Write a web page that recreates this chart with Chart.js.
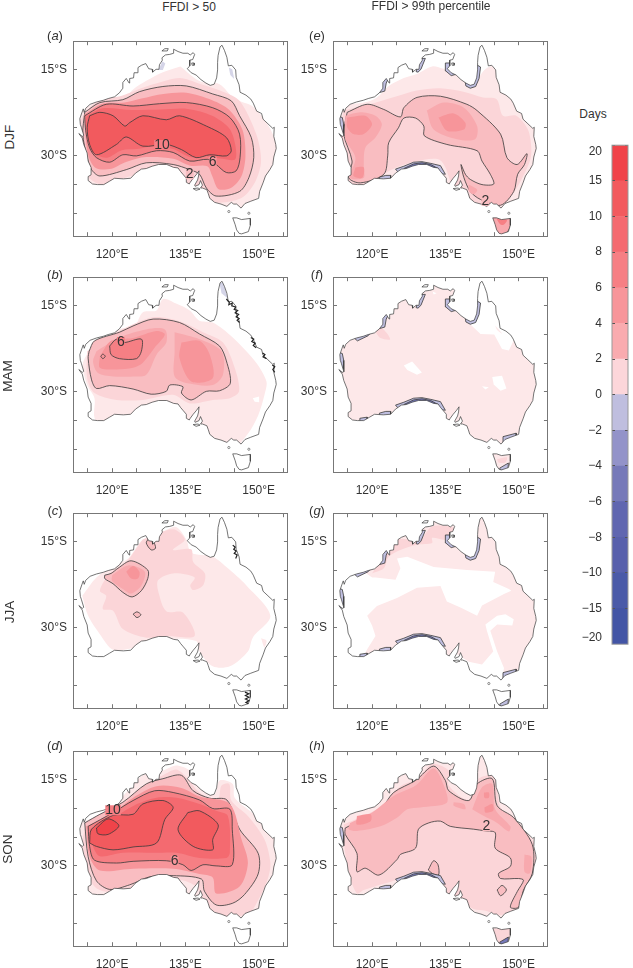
<!DOCTYPE html>
<html>
<head>
<meta charset="utf-8">
<script src="https://cdn.jsdelivr.net/npm/chart.js@4/dist/chart.umd.min.js"></script>
<style>
  html, body { margin: 0; padding: 0; background: #fff; }
  body { position: relative; width: 633px; height: 968px; overflow: hidden; font-family: "Liberation Sans", sans-serif; color: #333; }
  canvas { position: absolute; }
  .t { position: absolute; font-size: 12px; white-space: nowrap; transform: translate(-50%, -50%); }
  .s { position: absolute; font-size: 13.5px; white-space: nowrap; transform: translate(-50%, -50%) rotate(-90deg); }
  .p { position: absolute; font-size: 13px; white-space: nowrap; transform: translate(-50%, -50%); }
  .p i { font-style: italic; }
</style>
</head>
<body>
<script>
// axis marks
const lonMarks = [115, 120, 125, 130, 135, 140, 145, 150, 155];
const latMarks = [-40, -35, -30, -25, -20, -15];
const lonLabels = [120, 135, 150];
const latLabels = [-15, -30];

// coastline, lon/lat
const coast = [[142.5,-10.7],[143,-11.6],[143.5,-12.8],[143.8,-14.3],[144.5,-14.2],[145.3,-15],[145.4,-16.3],[146,-17.6],[146.2,-18.9],[147.4,-19.4],[148.4,-20.1],[148.9,-20.8],[149.6,-22.2],[150.6,-22.6],[150.9,-23.6],[151.9,-24.4],[152.9,-25.2],[153.2,-25],[153.1,-26.6],[153.5,-28],[153.6,-28.7],[153.1,-30.2],[152.9,-31.5],[152.3,-32.4],[151.4,-33.5],[150.9,-34.7],[150.2,-36.2],[150,-37.4],[148.4,-37.9],[147.2,-38.3],[146.4,-39.1],[145.5,-38.4],[144.9,-38.4],[144.4,-38.1],[143.5,-38.8],[142.3,-38.4],[141,-38.1],[140,-37.4],[139.7,-36.6],[139.4,-35.9],[138.5,-35.6],[138.1,-35.6],[138.5,-35.1],[138.1,-34.3],[137.8,-35],[137,-35.3],[136.9,-35.1],[137.5,-34.2],[137.7,-33.5],[137.8,-32.6],[137.3,-33.2],[136.6,-33.9],[136,-34.6],[135.8,-34.9],[135.2,-34.6],[135.2,-33.9],[134.5,-33.2],[134,-32.7],[133.5,-32.1],[132.6,-32],[131.2,-31.5],[129.5,-31.5],[128.2,-31.8],[127,-32.2],[126,-32.3],[124.8,-33],[123.8,-33.9],[122.3,-34],[120.5,-33.9],[119.5,-34.4],[118.3,-35],[117,-35],[116,-34.9],[115.1,-34.3],[115.1,-33.6],[115.7,-33.3],[115.7,-32],[115.1,-30.9],[114.9,-29.5],[114.2,-28],[113.9,-26.9],[113.2,-26.1],[113.9,-26.6],[114.2,-26.4],[113.7,-25],[113.5,-24.5],[113.4,-23.5],[113.8,-22.5],[114.1,-21.8],[114.3,-22.4],[114.6,-21.7],[115.5,-21],[116.8,-20.6],[118.2,-20.3],[119.2,-20],[120.5,-19.7],[121.5,-19],[122.2,-18.2],[122.2,-17.2],[122.9,-16.5],[123.5,-17.3],[123.6,-16.5],[124.4,-16.4],[124.5,-15.5],[125.2,-15.5],[125.3,-14.6],[126,-14.2],[126.9,-13.9],[127.5,-14.8],[128.2,-14.9],[128.3,-15.4],[129,-14.9],[129.6,-14.9],[129.7,-14.1],[130.3,-13.3],[130.2,-12.9],[130.9,-12.4],[131.8,-12.3],[132.6,-12.1],[132.6,-11.4],[133.5,-11.8],[134.5,-12.1],[135.5,-12.1],[136,-12.4],[136.6,-12],[136.9,-12.3],[136.5,-13.2],[135.9,-13.3],[135.9,-14.3],[135.4,-14.8],[136.2,-15.5],[137.2,-15.9],[138.2,-16.7],[139.2,-17.3],[140.1,-17.7],[140.9,-17.5],[141.4,-16.4],[141.6,-15],[141.6,-13.7],[141.7,-12.5],[142.1,-11],[142.5,-10.7]];
const tasmania = [[146.5,-43.6],[146,-43.5],[145.5,-42.9],[145.2,-42],[144.7,-40.8],[145.5,-40.8],[146.5,-41.1],[147.4,-41],[148.3,-40.9],[148.3,-42.1],[147.9,-43.2],[146.5,-43.6]];
const tiwi = [[130.2,-11.7],[130.8,-11.3],[131.5,-11.3],[131.3,-11.7],[130.2,-11.7]];
const groote = [[136.3,-13.8],[136.8,-13.8],[136.8,-14.2],[136.4,-14.2],[136.3,-13.8]];
const kangaroo = [[136.6,-35.7],[137.6,-35.6],[138,-35.8],[137.2,-36],[136.6,-35.7]];
const islandDots = [[143.9,-39.7],[148,-40]];

// DJF, FFDI > 50
const a0 = [[134,-14.4],[138,-17],[142,-17.5],[145,-20],[149,-21.5],[152.2,-25],[153.8,-28.6],[153.8,-31],[151.5,-34.5],[149.6,-37.5],[146.2,-39.5],[140,-39],[138,-37],[134,-35.5],[125,-34.5],[118,-36],[113.5,-35],[113,-28],[113,-23],[117.5,-20.4],[122.2,-20.1],[124.3,-18.4],[127,-16.9],[130.4,-15.4]];
const a1 = [[128.4,-17.5],[133.8,-16.4],[137.9,-17.4],[142.7,-18.8],[146.1,-20.4],[149.5,-26.2],[150.5,-30.9],[149.2,-34.7],[146.4,-37.4],[140.6,-38.2],[138,-37],[134,-34],[130,-33],[124,-33.5],[118,-35],[115,-33.5],[114,-29],[113.5,-24],[117,-20.5],[122,-19.5],[125,-18.5]];
const a2 = [[114.4,-22.4],[117.5,-20.7],[122.2,-20.2],[125.6,-18.8],[130.4,-17.9],[135.2,-17.8],[140.6,-19.2],[144.4,-20.4],[146.1,-23],[148.5,-26.8],[149,-30.3],[148,-33.8],[146.1,-36.2],[141.3,-37],[139.3,-35.6],[137.9,-33.2],[135.9,-32.4],[132.5,-31.5],[127,-31.2],[122.9,-32.4],[117.5,-33.5],[115.8,-32.4],[114.9,-30.3],[114,-26.2]];
const a4 = [[114.3,-22.8],[118,-20.9],[122.5,-20.7],[126,-20],[130.5,-19.2],[135.2,-19],[140.5,-20.3],[144,-22],[146.7,-25.5],[147.3,-30],[146.5,-33.5],[144.5,-35.5],[141.8,-35.8],[140.5,-33.5],[139.5,-31.8],[136,-31.7],[132.5,-30.5],[127,-30.2],[123,-31],[119.5,-32.3],[116.5,-32],[115,-29.5]];
const a6 = [[114.4,-23],[118.8,-21],[124.3,-21.3],[129.7,-20.9],[135.2,-20.7],[140.6,-21.6],[144.1,-23.3],[146.1,-26.2],[146.2,-30.3],[145.4,-32.6],[143.4,-32.9],[141.3,-31.5],[139.6,-30.6],[135.9,-30.9],[132.5,-29.4],[129.1,-29.1],[125,-30],[122.2,-29.8],[119.5,-31.1],[116.8,-30.3],[115.4,-28.6],[114.6,-25.6]];
const a8 = [[114.6,-23.2],[118,-21.7],[124,-22],[130,-21.9],[135.5,-21.8],[140.5,-23],[144,-25.2],[145.2,-28],[145.2,-30.6],[142.5,-30.5],[139,-30],[136,-30.2],[132.5,-28.8],[128.5,-28.3],[125,-28.8],[122,-29],[119,-30.3],[116.8,-29.8],[115.3,-28],[114.7,-25]];
const a10 = [[115.4,-23],[117.5,-22.4],[120.2,-23],[122.6,-24.8],[123.6,-24.2],[126.3,-23],[131.1,-23.7],[133.8,-23],[139.3,-24.8],[143.4,-26.8],[144.4,-29.1],[143.4,-30],[140,-29.8],[137.2,-30.3],[134.2,-28.9],[131.1,-28],[126.3,-28.3],[122.9,-26.7],[120.9,-28],[116.8,-29.8],[115.4,-28],[114.9,-25.1]];
const aPale1 = [[129.5,-15],[130.3,-13.5],[130.9,-13.9],[130.4,-15]];
const aPale2 = [[143.9,-14.6],[144.6,-14.9],[145,-16.6],[144.2,-15.9]];

// MAM, FFDI > 50
const b0 = [[115.4,-22.6],[121.5,-19.1],[124.6,-18.5],[126.3,-16.1],[129.1,-15.8],[130.4,-13.8],[133.1,-14.6],[135.9,-15.8],[137.9,-17.6],[140.6,-17.9],[144.7,-20.5],[149.5,-24.9],[151.6,-28.2],[151.2,-30.5],[149.9,-34.1],[147.8,-37.3],[144.7,-40],[139.3,-40],[135,-36],[125,-34.5],[118,-36],[116.4,-34.5],[116.4,-31.1],[114.9,-28.8],[114,-25.2]];
const bHole = [[148.8,-31.1],[150.1,-30.8],[150.1,-31.8],[149.2,-31.7]];
const b1 = [[114.9,-22.9],[121.5,-19.4],[128.4,-17],[133.8,-17.7],[138.6,-19.6],[142.7,-21.4],[145.1,-25.8],[146,-29.9],[144.1,-31.1],[140.6,-31.4],[135.9,-32],[132.5,-30.5],[126.3,-31.4],[120.9,-31.4],[116.4,-30.2],[114.9,-27.6]];
const b2 = [[115.3,-22.9],[116.4,-21.1],[121.5,-19.6],[124.3,-18.5],[128.4,-17.3],[133.8,-17.9],[137.9,-19.9],[142,-22],[143.4,-24.6],[144.2,-28.5],[142,-29.8],[139.3,-29.9],[136.2,-31.4],[134.2,-30.2],[134.5,-29.1],[131.8,-28.8],[131.1,-29.9],[128,-30.4],[124.3,-29.5],[119.5,-28.9],[116.8,-29.4],[115.8,-27.9],[115.1,-24.1]];
const b3w = [[116.8,-22.9],[121.5,-20.5],[127,-19.1],[130.8,-19.1],[131.1,-21.4],[129.1,-23.5],[127,-27],[124.3,-27.3],[120.2,-27.3],[117.1,-26.7],[116.1,-24.7]];
const b3e = [[132.8,-19.6],[137.9,-20.8],[142.4,-22.9],[142.7,-27],[140.6,-28.8],[135.5,-28.5],[132.8,-27.3],[132.8,-22.9]];
const b4w = [[117.5,-23.8],[119.8,-21.1],[124.3,-20.6],[129.1,-19.4],[130.8,-20],[128.7,-22.3],[126.3,-24.9],[124.3,-25.8],[120.9,-26.1],[117.5,-25.8]];
const b4e = [[134.2,-21.4],[137.9,-21.1],[140,-23.5],[140.6,-27.6],[136.2,-28.2],[133.8,-24.1]];
const b6 = [[119.5,-22],[120.9,-20.8],[122.4,-21.4],[126,-20.8],[126,-22.9],[125,-24.2],[121.5,-24.2],[119.8,-23.5]];
const bSpot = [[117.7,-23.8],[118.1,-23.4],[118.6,-23.8],[118.1,-24.2]];
const bCape = [[142,-11.1],[142.7,-10.8],[143.7,-13.7],[142.4,-12.8]];
const reefB1 = [[143.4,-13.8],[144,-14.4],[143.9,-14.8],[144.6,-14.5],[144.5,-15],[145.3,-15.2],[145,-15.6],[145.7,-15.8],[145.2,-16.2],[145.9,-16.5],[145.4,-16.9],[146,-17.2],[145.6,-17.5],[146.1,-17.9]];
const reefB2 = [[148.4,-20.5],[149,-20.8],[148.6,-21.2],[149.3,-21.5],[148.9,-21.9],[149.5,-22.3]];
const reefB3 = [[150.8,-23.2],[151.3,-23.5],[150.9,-23.9],[151.6,-24.2]];
const reefB4 = [[152.8,-25.3],[153.3,-25.6],[152.9,-26.1],[153.3,-26.6]];

// JJA, FFDI > 50
const c0 = [[113.9,-24.4],[116.8,-21.2],[120.2,-19.2],[123.3,-17.9],[126.3,-14.6],[130.4,-13.2],[133.1,-12.4],[135.2,-14.6],[136.2,-16.9],[140.6,-17.6],[143.4,-19.4],[147.5,-22.6],[152.4,-27.9],[148.8,-31.7],[147.8,-34.1],[144.1,-36.7],[140.6,-36.7],[137.9,-34.1],[137.2,-32.3],[131.1,-32],[124.3,-33.5],[120.2,-33.8],[117.5,-31.1],[115.1,-27.9]];
const c0East = [[150.5,-31.8],[151.6,-32.2],[151.2,-33.4]];
const c1 = [[126.3,-14.6],[132.5,-12.8],[134.9,-14.6],[132.5,-16.4],[136.2,-16.3],[136.6,-18.5],[139,-20.5],[138.6,-22.6],[136.6,-23.4],[136,-22.6],[136.9,-21.2],[132.5,-20.5],[129.4,-21.7],[129.6,-24.1],[131.1,-27.1],[134.5,-27.3],[136.9,-31.4],[131.1,-31.4],[127,-31.7],[122.2,-30.2],[120.2,-27],[118.1,-26.7],[118.8,-24.4],[117.5,-23.5],[119.5,-20.5],[122.9,-18.5],[125,-16.1]];
const c2 = [[118.5,-20.8],[119.8,-20.5],[121.2,-19.6],[123.9,-18.3],[127.3,-19.9],[127.3,-21.4],[126,-23.5],[124.1,-24.6],[122.2,-23.8],[120.2,-22.3],[118.5,-21.4]];
const c3 = [[120,-20.8],[123.3,-19.1],[126.7,-20.2],[126,-22.6],[123.9,-24],[122.2,-23.2],[120,-21.8]];
const c4 = [[122.9,-20.2],[124.3,-19.2],[125.6,-20.2],[125.3,-21.4],[123.9,-21.4]];
const cNorth = [[127.4,-14.5],[128.4,-14.9],[128.9,-16.1],[128,-16.4],[127,-15.2]];
const cSpot = [[124.3,-27.6],[125.1,-27.2],[125.9,-27.7],[125.1,-28.2]];
const reefC = [[144.7,-15.6],[145.2,-15.9],[144.9,-16.3],[145.4,-16.6],[145,-17],[145.6,-17.3],[145.3,-17.9]];
const reefCTas = [[147.2,-41.2],[148,-41.5],[147.3,-41.8],[148,-42.1],[147.3,-42.4],[148,-42.7],[147.4,-43],[147.9,-43.2]];

// SON, FFDI > 50
const d0 = [[113.7,-22.5],[119.5,-20.1],[122.9,-17.2],[126.3,-14.2],[130.4,-13.4],[133.1,-12.5],[135.9,-13.4],[138.6,-16.9],[141,-17.5],[142,-15.1],[144.7,-15.7],[145.1,-18.1],[148.2,-20.4],[151.6,-23.1],[153.8,-26.6],[154,-31.3],[150.9,-35.7],[148.8,-39.5],[140.6,-39.5],[135,-36.5],[125,-35],[118,-36],[113.5,-35],[113,-28]];
const d1 = [[114.4,-23.4],[119.8,-20.7],[123.2,-18.4],[127,-15.7],[130.4,-14.2],[133.1,-13.2],[135.2,-14.5],[137.9,-17.2],[141.6,-18.5],[142.4,-16],[144,-15.7],[144.4,-18.6],[147.8,-21.3],[151.2,-25.4],[152.4,-29.5],[151.9,-32.2],[149.9,-36],[147.8,-38.4],[140.6,-38.6],[137.2,-33.6],[132.5,-32.2],[127,-32.5],[123.6,-34],[118.8,-34.5],[116.4,-33.6],[114.9,-30.7],[114,-26]];
const d2 = [[114.4,-22.5],[117.5,-21],[122.2,-18.9],[127,-15.7],[130.4,-14.8],[134.2,-14.2],[136.6,-16.9],[140,-18.2],[143.5,-18.5],[146.1,-23.6],[149.9,-27.8],[149.9,-31.4],[147.1,-35],[144.7,-36.5],[141.3,-36.8],[138.9,-34.4],[138.3,-32.3],[132.5,-31.7],[127.7,-31.9],[123.6,-33.3],[119.5,-34.1],[116.8,-32.6],[115.1,-28.4]];
const d4 = [[114.7,-23.1],[120.2,-20.8],[124.3,-18.1],[129.1,-16.1],[134.2,-16.4],[137.9,-17.9],[144.1,-19.2],[146.5,-25.4],[147.8,-29.5],[146.1,-33.6],[141.3,-34.8],[140.6,-32],[137.9,-31.4],[132.5,-30.5],[124.3,-30.5],[117.5,-30.8],[115.4,-28.4]];
const d6 = [[115.1,-23.1],[120.2,-20.7],[124.3,-18.6],[128.7,-16.9],[132.5,-17.2],[137.9,-18.5],[140.6,-20],[144.1,-20.1],[144.6,-23.6],[144.6,-29.8],[141.3,-30],[138.6,-29.8],[136.2,-30.8],[134.5,-29.8],[131.1,-29.1],[124.3,-29.2],[120.9,-29.5],[116.4,-29],[115.4,-26.6]];
const d8 = [[115.5,-23.6],[120.8,-21.3],[125.1,-19.2],[129.1,-18.1],[133.2,-18.1],[137.9,-19.2],[141.3,-20.4],[143.7,-21.3],[144.1,-27.7],[143.4,-28.6],[137.9,-28.6],[133.2,-27.7],[129.1,-27.7],[122.2,-27.7],[117.5,-28.3],[116.1,-26.6]];
const d10w = [[115.4,-26],[115.8,-23.6],[120.2,-21.2],[124.3,-21],[126.3,-19.2],[130.4,-18.6],[132.5,-19.8],[130.8,-21.9],[129.1,-26],[124.3,-26.7],[120.2,-27.2],[116.8,-26.6]];
const d10e = [[135.5,-20.7],[137.9,-20.4],[141.7,-22.8],[140.6,-25.4],[140.6,-27.2],[136.6,-26.6],[133.5,-23.7]];
const d15 = [[116.8,-23.4],[119.2,-21.8],[121.4,-23],[119.2,-24.5],[117.1,-24.4]];

// DJF, FFDI > 99th percentile
const e0 = [[114,-21],[118.3,-20.7],[121,-19.8],[123.4,-17.8],[126.5,-16.4],[129.2,-15.7],[132.3,-14.4],[134.7,-14.8],[138,-14.8],[140.9,-16.9],[143.3,-14.8],[145.4,-14.3],[147,-18],[150,-21],[154,-25],[154.5,-30],[152,-36],[148,-40],[140,-39.5],[130,-34],[120,-36],[114,-36],[112.5,-28]];
const e1 = [[114.2,-22.1],[119.6,-21],[124.7,-19.7],[129.1,-18.6],[133.9,-18.2],[138.7,-18.8],[142.7,-19.8],[145.5,-20.1],[146.8,-23],[149.5,-23],[151.9,-25.4],[152.6,-28.6],[152.3,-30.9],[149.6,-35.6],[146.8,-38.5],[142,-39],[137,-36],[134,-30.8],[128.8,-31],[125,-32],[122.3,-33.2],[119,-35.5],[114.5,-35],[113,-28]];
const e2 = [[114.9,-22.4],[119,-21],[122.4,-21.9],[125.8,-23.2],[126.5,-21.6],[129.2,-19.8],[134,-19.6],[139.4,-21],[141.5,-22.1],[146.3,-26.2],[147.6,-30.3],[149.7,-31.5],[151.7,-29.6],[151.2,-31.5],[149.8,-33.2],[149,-36.2],[146.3,-38.6],[142.2,-37.6],[140.1,-36.2],[138.8,-33.8],[138.2,-31.5],[139.1,-33.2],[140.1,-34.1],[142.5,-35],[144.9,-34.9],[144.2,-33.2],[142.5,-30.9],[141.5,-29.1],[135.3,-28],[130.7,-26.5],[130.6,-24.8],[128.9,-23.4],[126.5,-23.4],[125.4,-25.1],[123.4,-27.7],[123.2,-30],[122.4,-33.2],[117.6,-34.7],[115.2,-33.8],[115.9,-30.9],[114.2,-26.2]];
const e3w = [[114.5,-23],[117.6,-22.4],[120.7,-23],[122,-24.5],[120.7,-26.8],[118.6,-28.6],[118.3,-32],[118.3,-33.8],[115.5,-33.8],[116.6,-30.3],[114.5,-27]];
const e4w = [[114.9,-23.3],[118.6,-23],[120,-24.5],[118.3,-26.2],[116.2,-26.2],[114.9,-25]];
const e4s = [[116.6,-32],[118.3,-32],[118,-33.8],[116.2,-33.5]];
const e3c = [[131.2,-22.1],[134.7,-20.7],[138.8,-21.6],[141.5,-24.8],[141.1,-27.1],[137.4,-27.1],[132.6,-25.4]];
const e4c = [[133.6,-23.3],[136.7,-22.6],[139.1,-24.2],[138.8,-25.4],[135.3,-25.6]];
const e3s = [[139.8,-35],[141.5,-35.9],[140.8,-36.7],[139.8,-36.1]];
const eTas = [[144.5,-40.6],[148.2,-40.8],[148.2,-42.5],[147,-43.8],[145.5,-43.5]];
const eTasCore = [[145.5,-41],[147.6,-41.2],[146.9,-42],[146.2,-41.9]];

// MAM, FFDI > 99th percentile
const fHole1 = [[126.5,-25.4],[128.2,-24.7],[130.2,-26.6],[129.2,-27],[127.2,-26.2]];
const fHole2 = [[144.6,-27.4],[146.6,-27.2],[147.5,-29.4],[146.3,-29.8],[144.9,-28.7]];
const fHole3 = [[142.5,-29],[143.9,-29.2],[143.2,-29.6]];
const fHole4 = [[139.8,-18],[142.2,-19.9],[145,-20],[146.6,-22.5],[148,-22.8],[149,-21],[152,-22],[150,-18],[146,-13],[142,-10],[139.5,-14]];
const fHole5 = [[132.4,-12.5],[133.2,-12.8],[132.6,-13]];
const fPatch = [[145.2,-18.4],[146.6,-19.8],[145.6,-19.2]];
const fNw = [[120.7,-19.5],[122,-18.9],[123.7,-20.8],[121.7,-20.6]];
const fTas = [[145.6,-41.7],[147.6,-41.4],[147.3,-42.3],[145.9,-42.3]];

// JJA, FFDI > 99th percentile
const gWhite1 = [[120,-21.2],[120.7,-21.2],[124.8,-21.6],[125.8,-19.6],[125.1,-17.9],[127.2,-17.6],[132.6,-19.4],[139.4,-19.9],[145.2,-20.2],[144.8,-22],[148,-23.2],[148.5,-23.5],[147,-24.1],[142.5,-26.1],[141.5,-27.9],[138.2,-26.5],[135.3,-25.4],[134,-22.7],[129.2,-23],[125.1,-24.8],[121,-26.2],[119,-27.9],[120,-29.6],[120.7,-31.4],[119,-33.7],[118,-35.3],[118,-37],[112,-36],[112,-20],[118,-20]];
const gWhite2 = [[143.2,-29.4],[145.6,-27.9],[147.3,-27.6],[149,-28.5],[148.7,-29.6],[145.6,-29.4],[144.2,-30.5],[145.6,-34.1],[147,-37],[146.6,-39],[142.2,-39],[135.3,-36.4],[135,-35.2],[137.4,-34.6],[139.8,-35.9],[142.5,-36.4],[144.8,-34.1],[143.5,-30.5]];
const g1 = [[120,-20.5],[122.4,-17.3],[125.4,-14.6],[128.2,-14.6],[129.9,-14.6],[132.3,-12.3],[136.7,-12.6],[135.3,-14.6],[132.3,-14.3],[132.3,-15.2],[129.2,-15.5],[125.8,-16.4],[123.4,-17.6],[122.4,-19.6]];

// SON, FFDI > 99th percentile
const h1 = [[114.2,-22.8],[122,-19.6],[125.8,-16.1],[129.5,-14.7],[132.3,-12.2],[135.7,-13.4],[135.7,-16],[139.8,-18.5],[141.8,-14.8],[144.9,-14.4],[146.3,-19.8],[149.7,-22.8],[153.1,-26],[153.6,-30.7],[151,-37.2],[148,-38],[146.3,-38.6],[143.2,-37.8],[140.8,-37.5],[135.3,-34.8],[129.2,-31.6],[123.7,-32.8],[118.3,-34.2],[116.9,-34.8],[115.5,-31.9],[114.2,-26]];
const h2 = [[114.5,-23.4],[121.7,-20.1],[124.4,-17.2],[128.9,-15.1],[132.6,-12.6],[135,-15.1],[135.7,-16.9],[139.8,-18.6],[141.5,-15.7],[144.6,-14.8],[145.6,-19.5],[149,-21.6],[152.8,-26.3],[152.8,-31.3],[151,-34.2],[150,-37.2],[148.3,-37.2],[149.7,-34.5],[151,-32.5],[150,-32.2],[146.3,-32.2],[145.9,-31.3],[148.3,-30.1],[148.3,-28.6],[145.2,-26.9],[145.2,-24.2],[143.2,-23.9],[140.8,-23.6],[136,-23.1],[134,-22.2],[131.6,-22.5],[129.5,-23.6],[128.9,-26.9],[125.8,-28],[125.1,-28.9],[121.4,-31.6],[118.6,-30.4],[116.9,-31],[116.9,-27.8],[114.5,-24.5]];
const h3w = [[115.5,-22.5],[120,-20.7],[124.4,-17.8],[128.9,-16],[132.6,-13],[134.7,-16],[135.3,-19],[129.9,-19.8],[127.2,-20.1],[125.1,-21.6],[121.7,-23.1],[116.9,-23.9],[115.2,-23.6]];
const h3e = [[140.5,-20.1],[142.5,-16.3],[144.6,-15.7],[145.2,-20.1],[148.3,-23.1],[148,-24],[145.6,-22.5],[142.9,-21.3]];
const h3s = [[151.2,-28],[152.6,-28.4],[152.3,-31.3],[151.2,-31]];
const h3n = [[136.7,-18.9],[138.8,-19.2],[139.1,-20.1],[136.7,-19.5]];
const h4w = [[116.9,-21.3],[119.7,-21],[119.7,-22.2],[116.9,-22.8]];
const h4n = [[142.9,-17.2],[143.9,-17.2],[143.9,-18.1],[143,-18.1]];
const h4e = [[143,-19.8],[144.6,-19.2],[144.8,-20.4],[143.2,-20.7]];
const hSpot1 = [[131.5,-30.7],[132.6,-29.1],[133.5,-29.8],[133.6,-31.6],[132.3,-31.3]];
const hSpot2 = [[145.6,-34.2],[146.6,-33.4],[147.5,-34.2],[146.3,-35.2]];
const hTas = [[144.6,-41],[148.3,-41],[147.9,-42.8],[146.2,-43.6]];

// coastal negative strips
const stripKimberley = [[121.3,-19],[121.2,-17],[122.5,-15.8],[123.6,-16],[122.9,-17.3],[122.6,-18.7]];
const stripPilbara = [[116.2,-20.5],[119,-19.5],[119.8,-19.6],[119.2,-20.2],[117,-21.1]];
const stripArnhem = [[129,-15.3],[129.4,-14.2],[130,-13],[130.9,-13],[130,-14.9],[129.4,-15.4]];
const stripGulfW = [[135,-13.8],[136.5,-13.8],[137.5,-15.7],[136.2,-16],[135.1,-15.2]];
const stripGulfS = [[139,-16.8],[140.8,-16.5],[141.2,-14],[142.2,-14.5],[141.9,-16.5],[141.2,-17.9],[140.1,-18.2],[139.2,-17.8]];
const stripWest = [[112.8,-23],[113.9,-23.3],[114.2,-24.5],[114.2,-26.5],[112.8,-26.5]];
const stripBight = [[124.8,-32.3],[126.5,-31.8],[128.5,-31.1],[130.2,-31],[132,-31.3],[134,-31.7],[135,-33.2],[133,-33],[130,-33],[126,-33.5]];
const stripBightDark = [[126.5,-32.2],[128.5,-31.4],[130.2,-31.2],[132,-31.5],[133.5,-32.2],[132,-32.5],[129,-32.5]];
const stripWa = [[121.5,-33.7],[122.8,-33.4],[123.8,-33.4],[123.8,-34.5],[121.5,-34.5]];
const stripSw = [[117.5,-34.6],[119,-34.4],[119,-35.5],[117.5,-35.5]];
const stripSe = [[146.8,-37.8],[149.5,-37.2],[149.5,-38.5],[147,-39]];
const stripTas = [[146.1,-43.3],[147.9,-42.4],[147.8,-43.5],[146.6,-43.8]];

// colour bar
const barLabels = ['\u221220','\u221215','\u221210','\u22128','\u22126','\u22124','\u22122','0','2','4','6','8','10','15','20'];
const barLabelPos = [0.17,1,2,3,4,5,6,7,8,9,10,11,12,13,13.83];
const barEdges = [0,1,2,3,4,5,6,7,8,9,10,11,12,13,14];
const barColors = ['#4355a5','#4a5aa8','#5860ac','#6066b0','#7679b9','#9393c9','#bfbedf','#fcd6da','#f9abaf','#f7959a','#f67f84','#f46a70','#f25a5e','#f04349'];

const levelColors = { 0:'#fde8e9', 1:'#fbd5d8', 2:'#f9bdc1', 3:'#f8a9ae', 4:'#f7959a', 6:'#f67f84', 8:'#f46a70', 10:'#f25a5e', 15:'#f04349',
  white:'#ffffff', pale:'#d5d5e8', blue:'#bfbedf', dark:'#7679b9' };

const stripsAll = [[stripKimberley,'blue',1],[stripArnhem,'blue',1],[stripGulfW,'blue',1],[stripGulfS,'blue',1],[stripWest,'blue',1],[stripBight,'blue',1],[stripBightDark,'dark',1],[stripWa,'blue',1]];

// layers in draw order: polygon, level, contour line
const panels = [
  { pos:[73,41], layers:[[a0,0],[a1,1],[a2,2,1],[a4,4],[a6,6,1],[a8,8],[a10,10,1],[aPale1,'pale'],[aPale2,'pale']],
    labels:[[130.2,-28.1,'10',6],[140.6,-31,'6',4],[135.9,-33.2,'2',2]] },
  { pos:[73,277], layers:[[b0,0],[bHole,'white'],[b1,1],[b2,2,1],[b3w,3],[b3e,3],[b4w,4],[b4e,4],[b6,6,1],[bSpot,4,1],[bCape,'pale']],
    lines:[reefB1,reefB2,reefB3,reefB4], labels:[[121.8,-21.3,'6',6]] },
  { pos:[73,513], layers:[[c0,0],[c0East,0],[c1,1],[c2,2,1],[c3,3],[c4,4],[cNorth,2,1],[cSpot,2,1]],
    lines:[reefC,reefCTas], labels:[] },
  { pos:[73,751], layers:[[d0,0],[d1,1],[d2,2,1],[d4,4],[d6,6,1],[d8,8],[d10w,10,1],[d10e,10,1],[d15,15,1]],
    labels:[[120.2,-20.3,'10',6],[132.8,-29.1,'6',4]] },
  { pos:[333,41], layers:[[e0,0],[e1,1],[e2,2,1],[e3w,3],[e4w,4],[e4s,4],[e3c,3],[e4c,4],[e3s,3],[tasmania,0],[eTas,3,1],[eTasCore,6],...stripsAll],
    labels:[[143.2,-37.8,'2',2]] },
  { pos:[333,277], layers:[[coast,0],[fHole1,'white'],[fHole2,'white'],[fHole3,'white'],[fHole4,'white'],[fHole5,'white'],[fPatch,0],[fNw,1],[tasmania,0],[fTas,1],...stripsAll,[stripSw,'blue',1],[stripPilbara,'blue',1],[stripSe,'blue',1],[stripTas,'blue',1]],
    labels:[] },
  { pos:[333,513], layers:[[coast,0],[gWhite1,'white'],[gWhite2,'white'],[g1,1],[tasmania,'white'],...stripsAll,[stripSw,'blue',1],[stripPilbara,'blue',1],[stripSe,'blue',1],[stripTas,'blue',1]],
    labels:[] },
  { pos:[333,751], layers:[[coast,0],[h1,1],[h2,2,1],[h3w,3],[h3e,3],[h3s,3],[h3n,3],[h4w,4],[h4n,4],[h4e,4],[hSpot1,2,1],[hSpot2,2,1],[tasmania,0],[hTas,1],[stripBight,'blue',1],[stripBightDark,'dark',1],[stripWa,'blue',1],[stripWest,'blue',1],[stripTas,'dark',1]],
    labels:[[143.4,-23.1,'2',2]] }
];

Chart.defaults.font.family = '"Liberation Sans", sans-serif';
Chart.defaults.font.size = 12;
Chart.defaults.color = '#333';
Chart.defaults.animation = false;

const toXY = arr => arr.map(([x, y]) => ({ x, y }));
const closed = arr => toXY(arr.concat([arr[0]]));

// white everywhere except the land, rectangle wound against the coast
const maskRing = [[111,-9],[111,-45],[146.5,-45],...tasmania,[146.5,-45],[157,-45],[157,-9],[142.5,-9],...coast,[142.5,-9],[111,-9]];

function panelDatasets(panel) {
  const sets = [];
  panel.layers.forEach(([pts, level, contour]) => {
    const isBand = typeof level === 'number';
    sets.push({
      data: closed(pts), fill: 'shape', backgroundColor: levelColors[level],
      borderColor: contour ? '#3a3a3a' : 'transparent', borderWidth: contour ? 0.8 : 0,
      tension: isBand && pts !== coast && pts !== tasmania ? 0.3 : 0
    });
  });
  sets.push({ data: toXY(maskRing), fill: 'shape', backgroundColor: '#fff', borderWidth: 0, tension: 0 });
  [coast, tasmania, tiwi, groote, kangaroo].forEach(line => {
    sets.push({ data: toXY(line), fill: false, borderColor: '#3a3a3a', borderWidth: 0.7, tension: 0 });
  });
  (panel.lines || []).forEach(line => {
    sets.push({ data: toXY(line), fill: false, borderColor: '#222', borderWidth: 1.2, tension: 0 });
  });
  sets.push({ data: toXY(islandDots), showLine: false, pointRadius: 1.1, pointBorderColor: '#444', pointBackgroundColor: '#fff', pointBorderWidth: 0.6 });
  return sets.reverse(); // first dataset is painted last
}

const contourLabels = {
  id: 'contourLabels',
  afterDatasetsDraw(chart, args, opts) {
    const ctx = chart.ctx;
    ctx.save();
    ctx.font = '14px "Liberation Sans", sans-serif';
    ctx.textAlign = 'center';
    ctx.textBaseline = 'middle';
    opts.items.forEach(([lon, lat, text, level]) => {
      const x = chart.scales.x.getPixelForValue(lon);
      const y = chart.scales.y.getPixelForValue(lat);
      const w = ctx.measureText(text).width;
      ctx.fillStyle = levelColors[level];
      ctx.fillRect(x - w / 2, y - 5, w, 10);
      ctx.fillStyle = '#333';
      ctx.fillText(text, x, y);
    });
    ctx.restore();
  }
};

const barFrame = {
  id: 'barFrame',
  afterDraw(chart) {
    const a = chart.chartArea;
    chart.ctx.save();
    chart.ctx.strokeStyle = '#999';
    chart.ctx.lineWidth = 1;
    chart.ctx.strokeRect(a.left, a.top, a.right - a.left, a.bottom - a.top);
    chart.ctx.restore();
  }
};

// grow the canvas until the plot area has the wanted size, then slide it into place
function pinArea(chart, left, top, width, height) {
  const a = chart.chartArea;
  chart.resize(chart.width + width - (a.right - a.left), chart.height + height - (a.bottom - a.top));
  const b = chart.chartArea;
  chart.canvas.style.left = (left - b.left) + 'px';
  chart.canvas.style.top = (top - b.top) + 'px';
}

const frameMark = (marks, text) => ({
  afterBuildTicks: s => { s.ticks = marks.map(v => ({ value: v })); },
  ticks: text
});

function addPanel(panel) {
  const canvas = document.createElement('canvas');
  canvas.width = 271;
  canvas.height = 239;
  document.body.appendChild(canvas);
  const grid = { drawOnChartArea: false, tickLength: -4, tickColor: '#777', z: 1 };
  const border = { color: '#777', width: 1, z: 1 };
  const chart = new Chart(canvas.getContext('2d'), {
    type: 'line',
    data: { datasets: panelDatasets(panel) },
    plugins: [contourLabels],
    options: {
      responsive: false,
      maintainAspectRatio: false,
      events: [],
      layout: { padding: { top: 4, right: 4 } },
      plugins: { legend: { display: false }, tooltip: { enabled: false }, contourLabels: { items: panel.labels } },
      elements: { point: { radius: 0 } },
      scales: {
        x: { type: 'linear', position: 'bottom', min: 112, max: 156, grid, border,
          afterFit: s => { s.height = 28; },
          ...frameMark(lonMarks, { autoSkip: false, maxRotation: 0, padding: 15, callback: v => lonLabels.includes(v) ? v + '°E' : '' }) },
        y: { type: 'linear', position: 'left', min: -44, max: -10, grid, border,
          afterFit: s => { s.width = 45; },
          ...frameMark(latMarks, { autoSkip: false, padding: 10, callback: v => latLabels.includes(v) ? (-v) + '°S' : '' }) },
        xTop: { type: 'linear', position: 'top', min: 112, max: 156, grid, border,
          afterFit: s => { s.height = 0; },
          ...frameMark(lonMarks, { display: false }) },
        yRight: { type: 'linear', position: 'right', min: -44, max: -10, grid, border,
          afterFit: s => { s.width = 0; },
          ...frameMark(latMarks, { display: false }) }
      }
    }
  });
  pinArea(chart, panel.pos[0], panel.pos[1], 215, 195);
}
panels.forEach(addPanel);

// colour bar, one floating bar per class
function addColorBar() {
  const canvas = document.createElement('canvas');
  canvas.width = 68;
  canvas.height = 540;
  document.body.appendChild(canvas);
  const cells = barColors.map((c, i) => ({
    data: [[barEdges[i], barEdges[i] + 1]], backgroundColor: c, borderWidth: 0,
    barPercentage: 1, categoryPercentage: 1
  }));
  const chart = new Chart(canvas.getContext('2d'), {
    type: 'bar',
    data: { labels: ['Days'], datasets: cells },
    plugins: [barFrame],
    options: {
      responsive: false,
      maintainAspectRatio: false,
      events: [],
      layout: { padding: { right: 2 } },
      plugins: { legend: { display: false }, tooltip: { enabled: false } },
      scales: {
        x: { display: false, stacked: true },
        y: { min: 0, max: 14, position: 'left', stacked: false,
          grid: { drawOnChartArea: false, drawTicks: false },
          border: { display: false },
          afterFit: s => { s.width = 47; },
          afterBuildTicks: s => { s.ticks = barLabelPos.map(v => ({ value: v })); },
          ticks: { autoSkip: false, padding: 10, callback: (v, i) => barLabels[i] } },
        yMarks: { min: 0, max: 14, position: 'right',
          grid: { z: 1, color: '#555', drawTicks: false, lineWidth: 1 },
          border: { display: false, dash: [3, 10, 3] },
          afterFit: s => { s.width = 0; },
          afterBuildTicks: s => { s.ticks = barEdges.slice(1).map(v => ({ value: v })); },
          ticks: { display: false } }
      }
    }
  });
  pinArea(chart, 612, 145, 16, 499);
}
addColorBar();

// text around the charts
const notes = [
  ['t', 189, 7, 'FFDI &gt; 50'], ['t', 431, 6, 'FFDI &gt; 99th percentile'], ['t', 593, 114, 'Days'],
  ['s', 9, 137, 'DJF'], ['s', 7, 376, 'MAM'], ['s', 9, 612, 'JJA'], ['s', 7, 849, 'SON'],
  ['p', 55, 35, '(<i>a</i>)'], ['p', 55, 274, '(<i>b</i>)'], ['p', 55, 510, '(<i>c</i>)'], ['p', 55, 745, '(<i>d</i>)'],
  ['p', 317, 35, '(<i>e</i>)'], ['p', 317, 274, '(<i>f</i>)'], ['p', 317, 510, '(<i>g</i>)'], ['p', 317, 745, '(<i>h</i>)']
];
notes.forEach(([cls, x, y, html]) => {
  const el = document.createElement('div');
  el.className = cls;
  el.style.left = x + 'px';
  el.style.top = y + 'px';
  el.innerHTML = html;
  document.body.appendChild(el);
});
</script>
</body>
</html>
